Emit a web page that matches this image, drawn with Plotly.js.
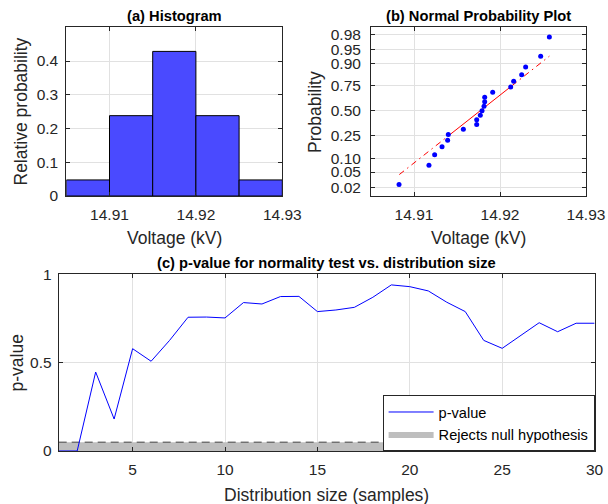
<!DOCTYPE html>
<html>
<head>
<meta charset="utf-8">
<script src="https://cdn.plot.ly/plotly-3.0.1.min.js"></script>
<style>html,body{margin:0;padding:0;background:#fff;}#chart{width:608px;height:504px;}</style>
</head>
<body>
<div id="chart"></div>
<script>
// ---- Data ----
const voltages = [14.90826, 14.91174, 14.91240, 14.91326, 14.91391, 14.91399, 14.91574,
  14.91729, 14.91729, 14.91771, 14.91791, 14.91814, 14.91822, 14.91822, 14.91915,
  14.92124, 14.92159, 14.92252, 14.92298, 14.92473, 14.92574];
const probPositions = [0.0238, 0.0714, 0.1190, 0.1667, 0.2143, 0.2619, 0.3095,
  0.3571, 0.4048, 0.4524, 0.5000, 0.5476, 0.5952, 0.6429, 0.6905,
  0.7381, 0.7857, 0.8333, 0.8810, 0.9286, 0.9762];
const refLineX = [14.90829, 14.91399, 14.92139, 14.92574];
const refLineP = [0.0433, 0.25, 0.75, 0.929];
const probTicks = [0.02, 0.05, 0.10, 0.25, 0.50, 0.75, 0.90, 0.95, 0.98];
const probTickText = ['0.02', '0.05', '0.10', '0.25', '0.50', '0.75', '0.90', '0.95', '0.98'];
const voltTicks = [14.91, 14.92, 14.93];
const histYTicks = [0, 0.1, 0.2, 0.3, 0.4];
const histYTickText = ['0', '0.1', '0.2', '0.3', '0.4'];
const sampleSizes = [1, 2, 3, 4, 5, 6, 7, 8, 9, 10, 11, 12, 13, 14, 15,
  16, 17, 18, 19, 20, 21, 22, 23, 24, 25, 26, 27, 28, 29, 30];
const pValues = [0, 0, 0.447, 0.181, 0.579, 0.508, 0.626, 0.757, 0.758, 0.753,
  0.840, 0.832, 0.874, 0.875, 0.789, 0.798, 0.813, 0.870, 0.940, 0.930,
  0.906, 0.842, 0.789, 0.626, 0.581, 0.653, 0.726, 0.675, 0.723, 0.723];
const alphaLevel = 0.05;
const sizeTicks = [5, 10, 15, 20, 25, 30];
const pTicks = [0, 0.5, 1];
const pTickText = ['0', '0.5', '1'];

// inverse standard normal CDF (Acklam) : probability-scale axis transform
function norminv(p) {
  const a = [-3.969683028665376e+01, 2.209460984245205e+02, -2.759285104469687e+02, 1.383577518672690e+02, -3.066479806614716e+01, 2.506628277459239e+00];
  const b = [-5.447609879822406e+01, 1.615858368580409e+02, -1.556989798598866e+02, 6.680131188771972e+01, -1.328068155288572e+01];
  const c = [-7.784894002430293e-03, -3.223964580411365e-01, -2.400758277161838e+00, -2.549732539343734e+00, 4.374664141464968e+00, 2.938163982698783e+00];
  const d = [7.784695709041462e-03, 3.224671290700398e-01, 2.445134137142996e+00, 3.754408661907416e+00];
  const pl = 0.02425, ph = 1 - pl;
  let q, r;
  if (p < pl) { q = Math.sqrt(-2 * Math.log(p)); return (((((c[0]*q+c[1])*q+c[2])*q+c[3])*q+c[4])*q+c[5]) / ((((d[0]*q+d[1])*q+d[2])*q+d[3])*q+1); }
  if (p <= ph) { q = p - 0.5; r = q*q; return (((((a[0]*r+a[1])*r+a[2])*r+a[3])*r+a[4])*r+a[5])*q / (((((b[0]*r+b[1])*r+b[2])*r+b[3])*r+b[4])*r+1); }
  q = Math.sqrt(-2 * Math.log(1 - p)); return -(((((c[0]*q+c[1])*q+c[2])*q+c[3])*q+c[4])*q+c[5]) / ((((d[0]*q+d[1])*q+d[2])*q+d[3])*q+1);
}

const FONT = 'Liberation Sans, Arial, Helvetica, sans-serif';
const TXT = '#262626';
const GRID = '#e1e1e1';
const TICKF = {family: FONT, size: 15.5, color: TXT};

const traces = [];
// (a) histogram
traces.push({
  type: 'histogram', x: voltages, histnorm: 'probability',
  xbins: {start: 14.905, end: 14.93, size: 0.005}, autobinx: false,
  marker: {color: 'rgb(74,74,255)', line: {color: '#000', width: 1}},
  xaxis: 'x', yaxis: 'y', showlegend: false, hoverinfo: 'skip'
});
// (b) normal probability plot
const rz = refLineP.map(norminv);
traces.push({
  type: 'scatter', mode: 'lines',
  x: [refLineX[0], refLineX[1], null, refLineX[2], refLineX[3]],
  y: [rz[0], rz[1], null, rz[2], rz[3]],
  line: {color: 'rgb(255,0,0)', width: 1, dash: '6px,4px,1.5px,4px'},
  xaxis: 'x2', yaxis: 'y2', showlegend: false, hoverinfo: 'skip'
});
traces.push({
  type: 'scatter', mode: 'lines',
  x: [refLineX[1], refLineX[2]], y: [rz[1], rz[2]],
  line: {color: 'rgb(255,0,0)', width: 1},
  xaxis: 'x2', yaxis: 'y2', showlegend: false, hoverinfo: 'skip'
});
traces.push({
  type: 'scatter', mode: 'markers',
  x: voltages, y: probPositions.map(norminv),
  marker: {color: 'rgb(0,0,255)', size: 5},
  xaxis: 'x2', yaxis: 'y2', showlegend: false, hoverinfo: 'skip'
});
// (c) p-value
const xMin = sampleSizes[0], xMax = sampleSizes[sampleSizes.length - 1];
traces.push({
  type: 'scatter', mode: 'lines', name: 'Rejects null hypothesis',
  x: [xMin, xMax], y: [alphaLevel, alphaLevel], fill: 'tozeroy',
  fillcolor: 'rgb(190,190,190)', line: {width: 0, color: 'rgb(190,190,190)'},
  xaxis: 'x3', yaxis: 'y3', legendrank: 2, hoverinfo: 'skip'
});
traces.push({
  type: 'scatter', mode: 'lines',
  x: [xMin, xMax], y: [alphaLevel, alphaLevel],
  line: {color: '#404040', width: 1, dash: '8px,5px'},
  xaxis: 'x3', yaxis: 'y3', showlegend: false, hoverinfo: 'skip'
});
traces.push({
  type: 'scatter', mode: 'lines', name: 'p-value',
  x: sampleSizes, y: pValues,
  line: {color: 'rgb(0,0,255)', width: 1},
  xaxis: 'x3', yaxis: 'y3', legendrank: 1, hoverinfo: 'skip'
});

function ax(extra) {
  return Object.assign({
    showline: true, linecolor: TXT, linewidth: 1, mirror: 'ticks',
    ticks: 'inside', ticklen: 4, tickcolor: TXT, tickwidth: 1,
    showgrid: true, gridcolor: GRID, gridwidth: 1, zeroline: false,
    tickfont: TICKF, fixedrange: true
  }, extra);
}

const W = 608, H = 504;
const px = v => v / W, py = v => 1 - v / H;

const layout = {
  width: W, height: H, margin: {l: 0, r: 0, t: 0, b: 0},
  paper_bgcolor: '#fff', plot_bgcolor: '#fff',
  font: {family: FONT, color: TXT},
  bargap: 0,
  xaxis: ax({domain: [px(66.3), px(282.3)], range: [14.905, 14.93], tickvals: voltTicks, ticktext: ['14.91','14.92','14.93'], anchor: 'y', ticklabelstandoff: 4}),
  yaxis: ax({domain: [py(196), py(27.3)], range: [0, 0.5], tickvals: histYTicks, ticktext: histYTickText, anchor: 'x', ticklabelstandoff: 4}),
  xaxis2: ax({domain: [px(371), px(586)], range: [14.905, 14.93], tickvals: voltTicks, ticktext: ['14.91','14.92','14.93'], anchor: 'y2', ticklabelstandoff: 4}),
  yaxis2: ax({domain: [py(196), py(27.3)], range: [-2.29, 2.245], tickvals: probTicks.map(norminv), ticktext: probTickText, anchor: 'x2', ticklabelstandoff: 6}),
  xaxis3: ax({domain: [px(58.7), px(594.6)], range: [1, 30], tickvals: sizeTicks, anchor: 'y3', ticklabelstandoff: 4}),
  yaxis3: ax({domain: [py(451), py(274.3)], range: [0, 1], tickvals: pTicks, ticktext: pTickText, anchor: 'x3', ticklabelstandoff: 3}),
  showlegend: true,
  legend: {
    x: px(594.6), xanchor: 'right', y: py(451), yanchor: 'bottom',
    bgcolor: '#fff', bordercolor: TXT, borderwidth: 1,
    font: {family: FONT, size: 14.6, color: '#000'},
    itemwidth: 45, tracegroupgap: 0
  },
  annotations: [
    {text: '<b>(a) Histogram</b>', x: px(174.3), y: py(15.7), font: {size: 14.7, color: '#000'}},
    {text: '<b>(b) Normal Probability Plot</b>', x: px(478.5), y: py(15.7), font: {size: 14.7, color: '#000'}},
    {text: '<b>(c) p-value for normality test vs. distribution size</b>', x: px(326.7), y: py(262.5), font: {size: 14.7, color: '#000'}},
    {text: 'Voltage (kV)', x: px(174.3), y: py(238.3), font: {size: 17.5, color: TXT}},
    {text: 'Voltage (kV)', x: px(478.5), y: py(238.3), font: {size: 17.5, color: TXT}},
    {text: 'Relative probability', x: px(20.5), y: py(112), textangle: -90, font: {size: 17.5, color: TXT}},
    {text: 'Probability', x: px(315), y: py(112), textangle: -90, font: {size: 17.5, color: TXT}},
    {text: 'p-value', x: px(16), y: py(363.5), textangle: -90, font: {size: 17.5, color: TXT}},
    {text: 'Distribution size (samples)', x: px(326.7), y: py(495), font: {size: 17.5, color: TXT}}
  ].map(a => Object.assign({xref: 'paper', yref: 'paper', showarrow: false, xanchor: 'center', yanchor: 'middle'}, a, {font: Object.assign({family: FONT}, a.font)}))
};

Plotly.newPlot('chart', traces, layout, {staticPlot: true, displayModeBar: false});
</script>
</body>
</html>
